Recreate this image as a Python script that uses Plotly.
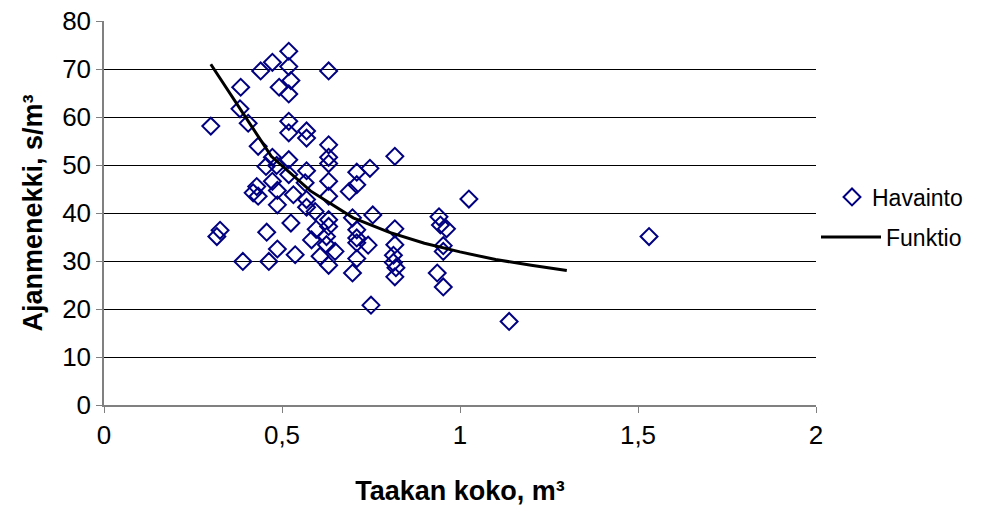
import plotly.graph_objects as go

# Havainto (observations)
obs_x = [0.300, 0.317, 0.326, 0.384, 0.382, 0.390, 0.405, 0.419, 0.429, 0.433,
         0.433, 0.440, 0.455, 0.457, 0.463, 0.473, 0.473, 0.473, 0.485, 0.487,
         0.487, 0.487, 0.492, 0.519, 0.519, 0.525, 0.519, 0.519, 0.519, 0.519,
         0.519, 0.532, 0.525, 0.537, 0.569, 0.569, 0.569, 0.565, 0.569, 0.569,
         0.593, 0.596, 0.583, 0.607, 0.625, 0.625, 0.631, 0.631, 0.631, 0.631,
         0.631, 0.631, 0.631, 0.631, 0.631, 0.649, 0.689, 0.698, 0.698, 0.710,
         0.710, 0.710, 0.710, 0.710, 0.710, 0.742, 0.747, 0.755, 0.750, 0.817,
         0.817, 0.817, 0.813, 0.813, 0.820, 0.817, 0.941, 0.945, 0.962, 0.953,
         0.953, 0.936, 0.953, 1.025, 1.138, 1.531]
obs_y = [58.1, 35.1, 36.4, 66.2, 61.7, 29.9, 58.7, 44.2, 45.5, 43.5,
         53.9, 69.6, 49.7, 36.0, 29.9, 71.4, 51.6, 46.6, 49.9, 44.7,
         41.7, 32.5, 66.2, 73.7, 70.5, 67.6, 64.8, 59.1, 56.7, 51.1,
         48.0, 43.8, 37.9, 31.3, 57.1, 55.6, 48.8, 46.3, 42.8, 41.2,
         40.3, 36.6, 34.4, 31.0, 35.1, 33.4, 69.6, 54.2, 51.6, 50.3,
         46.6, 43.5, 38.6, 37.2, 29.1, 32.0, 44.5, 39.0, 27.5, 48.5,
         45.9, 36.5, 34.8, 33.8, 30.5, 33.3, 49.3, 39.6, 20.8, 51.8,
         36.7, 33.4, 31.2, 29.7, 28.6, 26.7, 39.2, 37.5, 36.7, 33.2,
         32.0, 27.5, 24.6, 42.9, 17.4, 35.1]

# Funktio (fitted curve)
fun_x = [0.30, 0.47, 0.58, 0.70, 0.80, 0.90, 1.00, 1.10, 1.20, 1.30]
fun_y = [71.0, 51.8, 44.6, 39.0, 36.0, 33.7, 31.9, 30.3, 29.1, 28.0]

x_ticks = [0, 0.5, 1, 1.5, 2]
x_tick_labels = ["0", "0,5", "1", "1,5", "2"]
y_ticks = [0, 10, 20, 30, 40, 50, 60, 70, 80]

FONT = "Liberation Sans, Arial, sans-serif"

fig = go.Figure()
fig.add_trace(go.Scatter(
    x=obs_x, y=obs_y, mode="markers", name="Havainto",
    marker=dict(symbol="diamond-open", size=13, color="#000080",
                line=dict(width=2, color="#000080")),
    legend="legend",
))
fig.add_trace(go.Scatter(
    x=fun_x, y=fun_y, mode="lines", name="Funktio",
    line=dict(color="black", width=3),
    legend="legend2",
))

fig.update_layout(
    width=985, height=511,
    margin=dict(l=104, r=169, t=21, b=106),
    paper_bgcolor="white", plot_bgcolor="white",
    font=dict(family=FONT, size=26, color="black"),
    showlegend=True,
    legend=dict(x=(832 - 104) / 712, y=(405 - 197) / 384, xanchor="left", yanchor="middle",
                itemwidth=30,
                font=dict(size=23, family=FONT), bgcolor="rgba(0,0,0,0)"),
    legend2=dict(x=1.0, y=(405 - 237) / 384, xanchor="left", yanchor="middle",
                 itemwidth=60,
                 font=dict(size=23, family=FONT), bgcolor="rgba(0,0,0,0)"),
    xaxis=dict(
        range=[0, 2], tickvals=x_ticks, ticktext=x_tick_labels,
        showgrid=False, zeroline=False, automargin=False,
        showline=True, linecolor="#808080", linewidth=1.5,
        ticks="outside", ticklen=6, tickcolor="#808080",
        tickfont=dict(size=26),
        title=dict(text="<b>Taakan koko, m³</b>", font=dict(size=27), standoff=32),
    ),
    yaxis=dict(
        range=[0, 80], tickvals=y_ticks,
        showgrid=True, gridcolor="black", gridwidth=1,
        zeroline=False, automargin=False,
        showline=True, linecolor="#808080", linewidth=1.5,
        ticks="outside", ticklen=6, tickcolor="#808080",
        tickfont=dict(size=26),
        title=dict(text="<b>Ajanmenekki, s/m³</b>", font=dict(size=27), standoff=12),
    ),
)

fig.write_html("out.html")
